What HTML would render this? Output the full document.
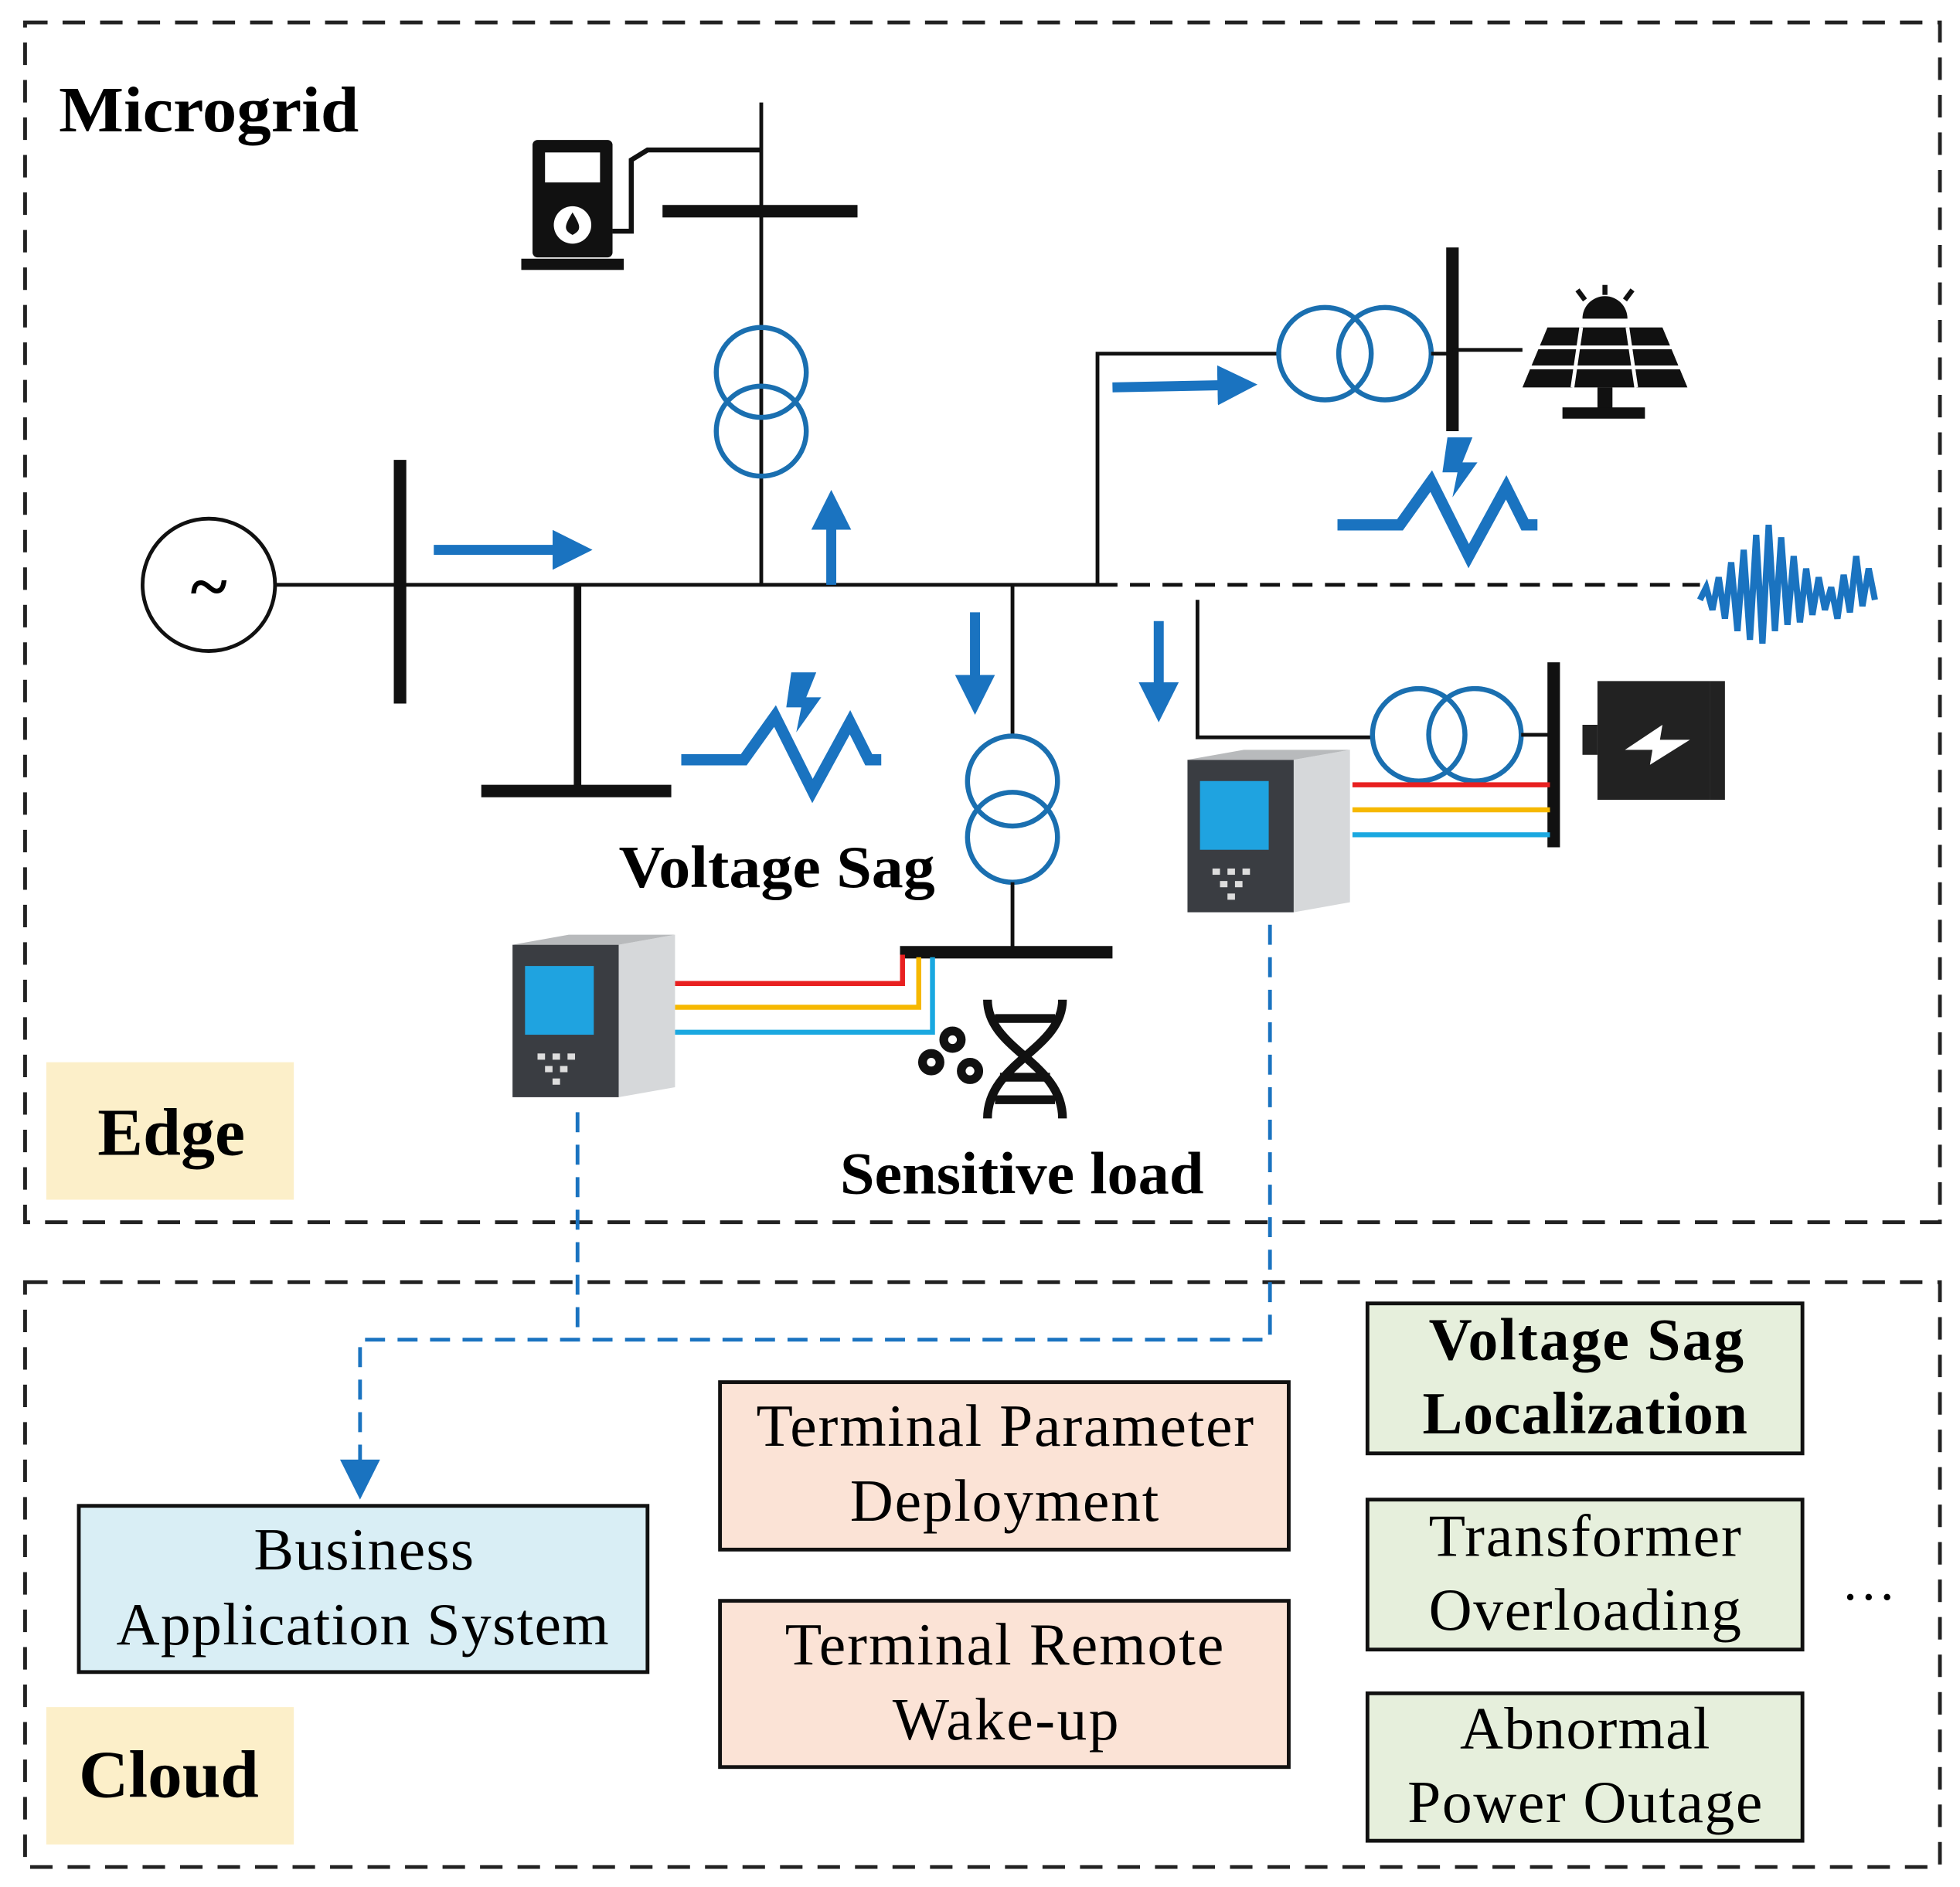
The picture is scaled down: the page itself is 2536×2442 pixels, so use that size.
<!DOCTYPE html>
<html><head><meta charset="utf-8">
<style>html,body{margin:0;padding:0;background:#fff}svg{display:block}</style>
</head><body>
<svg width="2536" height="2442" viewBox="0 0 1568 1510" xmlns="http://www.w3.org/2000/svg" font-family="'Liberation Serif',serif">
<defs>
<marker id="ah" markerWidth="4" markerHeight="4" refX="2" refY="2" orient="auto" markerUnits="strokeWidth"><path d="M0,0 L4,2 L0,4 z" fill="#1a73c0"/></marker>
<g id="sag"><path d="M0,70 L50,70 L75,35 L105,95 L135,40 L150,70 L160,70" fill="none" stroke="#1a73c0" stroke-width="9" stroke-linejoin="miter"/><path d="M88,0 L108,0 L100,20 L112,20 L92,48 L96,28 L84,28 z" fill="#1a73c0"/></g>
<g id="dev">
<rect x="0" y="8" width="85" height="122" fill="#3a3d42"/>
<path d="M85,8 L130,0 L130,122 L85,130 z" fill="#d6d8da"/>
<path d="M0,8 L45,0 L130,0 L85,8 z" fill="#b8babc"/>
<rect x="10" y="25" width="55" height="55" fill="#1fa3e0"/>
<g fill="#ddd"><rect x="20" y="95" width="6" height="5"/><rect x="32" y="95" width="6" height="5"/><rect x="44" y="95" width="6" height="5"/><rect x="26" y="105" width="6" height="5"/><rect x="38" y="105" width="6" height="5"/><rect x="32" y="115" width="6" height="5"/></g>
</g>
</defs>
<rect width="1568" height="1510" fill="#fff"/>
<rect x="20" y="18" width="1532" height="960" fill="none" stroke="#222" stroke-width="3" stroke-dasharray="18,12"/>
<rect x="20" y="1026" width="1532" height="468" fill="none" stroke="#222" stroke-width="3" stroke-dasharray="18,12"/>
<text x="47" y="105" font-size="52" font-weight="bold" textLength="240" lengthAdjust="spacingAndGlyphs">Microgrid</text>
<circle cx="167" cy="468" r="53" fill="none" stroke="#111" stroke-width="3"/>
<text x="167" y="488" font-size="56" font-weight="bold" text-anchor="middle">~</text>
<line x1="220" y1="468" x2="878" y2="468" stroke="#111" stroke-width="3"/>
<line x1="878" y1="468" x2="1360" y2="468" stroke="#111" stroke-width="3" stroke-dasharray="16,10"/>
<line x1="320" y1="368" x2="320" y2="563" stroke="#111" stroke-width="10"/>
<line x1="347" y1="440" x2="458" y2="440" stroke="#1a73c0" stroke-width="8" marker-end="url(#ah)"/>
<line x1="462" y1="468" x2="462" y2="633" stroke="#111" stroke-width="6"/>
<line x1="385" y1="633" x2="537" y2="633" stroke="#111" stroke-width="10"/>
<line x1="609" y1="82" x2="609" y2="468" stroke="#111" stroke-width="3"/>
<line x1="530" y1="169" x2="686" y2="169" stroke="#111" stroke-width="10"/>
<circle cx="609" cy="298" r="36" fill="none" stroke="#1a6fb0" stroke-width="4"/>
<circle cx="609" cy="345" r="36" fill="none" stroke="#1a6fb0" stroke-width="4"/>
<line x1="665" y1="468" x2="665" y2="408" stroke="#1a73c0" stroke-width="8" marker-end="url(#ah)"/>
<rect x="426" y="112" width="64" height="94" rx="4" fill="#111"/>
<rect x="436" y="122" width="44" height="24" fill="#fff"/>
<circle cx="458" cy="180" r="15" fill="#fff"/><path d="M458,170 C452,180 450,184 458,188 C466,184 464,180 458,170 z" fill="#111"/>
<rect x="417" y="207" width="82" height="9" fill="#111"/>
<path d="M490,185 L505,185 L505,128 L518,120 L609,120" fill="none" stroke="#111" stroke-width="4"/>
<line x1="810" y1="468" x2="810" y2="590" stroke="#111" stroke-width="3"/>
<circle cx="810" cy="625" r="36" fill="none" stroke="#1a6fb0" stroke-width="4"/>
<circle cx="810" cy="670" r="36" fill="none" stroke="#1a6fb0" stroke-width="4"/>
<line x1="810" y1="706" x2="810" y2="762" stroke="#111" stroke-width="3"/>
<line x1="720" y1="762" x2="890" y2="762" stroke="#111" stroke-width="10"/>
<line x1="780" y1="490" x2="780" y2="556" stroke="#1a73c0" stroke-width="8" marker-end="url(#ah)"/>
<line x1="927" y1="497" x2="927" y2="562" stroke="#1a73c0" stroke-width="8" marker-end="url(#ah)"/>
<path d="M878,468 L878,283 L1023,283" fill="none" stroke="#111" stroke-width="3"/>
<circle cx="1060" cy="283" r="37" fill="none" stroke="#1a6fb0" stroke-width="4"/>
<circle cx="1108" cy="283" r="37" fill="none" stroke="#1a6fb0" stroke-width="4"/>
<line x1="1145" y1="283" x2="1162" y2="283" stroke="#111" stroke-width="3"/>
<line x1="1162" y1="198" x2="1162" y2="345" stroke="#111" stroke-width="10"/>
<line x1="1162" y1="280" x2="1218" y2="280" stroke="#111" stroke-width="3"/>
<line x1="890" y1="310" x2="990" y2="308" stroke="#1a73c0" stroke-width="8" marker-end="url(#ah)"/>
<g fill="#111">
<path d="M1266,255 a18,18 0 0 1 36,0 z"/>
<line x1="1284" y1="228" x2="1284" y2="236" stroke="#111" stroke-width="4"/>
<line x1="1262" y1="232" x2="1268" y2="240" stroke="#111" stroke-width="4"/>
<line x1="1306" y1="232" x2="1300" y2="240" stroke="#111" stroke-width="4"/>
<path d="M1238,262 L1330,262 L1350,310 L1218,310 z"/>
<rect x="1278" y="310" width="12" height="18"/>
<rect x="1250" y="326" width="66" height="9"/>
</g>
<g stroke="#fff" stroke-width="3"><line x1="1228" y1="278" x2="1340" y2="278"/><line x1="1224" y1="294" x2="1344" y2="294"/><line x1="1265" y1="262" x2="1258" y2="310"/><line x1="1302" y1="262" x2="1309" y2="310"/></g>
<use href="#sag" x="1070" y="350"/>
<use href="#sag" x="545" y="538"/>
<path d="M1360,480 L1365,470 L1370,488 L1375,462 L1380,495 L1385,450 L1390,505 L1395,440 L1400,512 L1405,428 L1410,515 L1415,420 L1420,505 L1425,430 L1430,500 L1435,445 L1440,498 L1445,455 L1450,492 L1455,462 L1460,488 L1465,470 L1470,495 L1475,460 L1480,490 L1485,445 L1490,485 L1495,455 L1500,480" fill="none" stroke="#1a73c0" stroke-width="5"/>
<path d="M958,480 L958,590 L1098,590" fill="none" stroke="#111" stroke-width="3"/>
<circle cx="1135" cy="588" r="37" fill="none" stroke="#1a6fb0" stroke-width="4"/>
<circle cx="1180" cy="588" r="37" fill="none" stroke="#1a6fb0" stroke-width="4"/>
<line x1="1217" y1="588" x2="1243" y2="588" stroke="#111" stroke-width="3"/>
<line x1="1243" y1="530" x2="1243" y2="678" stroke="#111" stroke-width="10"/>
<rect x="1278" y="545" width="90" height="95" fill="#222"/>
<rect x="1266" y="580" width="12" height="24" fill="#222"/>
<rect x="1368" y="545" width="12" height="95" fill="#222"/>
<path d="M1300,600 L1330,580 L1328,592 L1352,592 L1320,612 L1322,600 z" fill="#fff"/>
<line x1="1082" y1="628" x2="1240" y2="628" stroke="#e82020" stroke-width="4"/>
<line x1="1082" y1="648" x2="1240" y2="648" stroke="#f6b800" stroke-width="4"/>
<line x1="1082" y1="668" x2="1240" y2="668" stroke="#1aa8e0" stroke-width="4"/>
<use href="#dev" x="950" y="600"/>
<path d="M540,787 L722,787 L722,764" fill="none" stroke="#e82020" stroke-width="4"/>
<path d="M540,806 L735,806 L735,766" fill="none" stroke="#f6b800" stroke-width="4"/>
<path d="M540,826 L746,826 L746,766" fill="none" stroke="#1aa8e0" stroke-width="4"/>
<use href="#dev" x="410" y="748"/>
<g fill="none" stroke="#111" stroke-width="7">
<path d="M790,800 C790,840 850,850 850,895"/><path d="M850,800 C850,840 790,850 790,895"/>
<line x1="796" y1="815" x2="844" y2="815"/><line x1="796" y1="880" x2="844" y2="880"/><line x1="800" y1="862" x2="840" y2="862"/>
<circle cx="745" cy="850" r="7"/><circle cx="762" cy="832" r="7"/><circle cx="776" cy="857" r="7"/>
</g>
<text x="495" y="710" font-size="48" font-weight="bold" textLength="253" lengthAdjust="spacingAndGlyphs">Voltage Sag</text>
<text x="672" y="955" font-size="48" font-weight="bold" textLength="291" lengthAdjust="spacingAndGlyphs">Sensitive load</text>
<rect x="37" y="850" width="198" height="110" fill="#fcefc9"/>
<text x="78" y="924" font-size="54" font-weight="bold" textLength="118" lengthAdjust="spacingAndGlyphs">Edge</text>
<path d="M462,890 L462,1072 M1016,740 L1016,1072 L288,1072 L288,1175" fill="none" stroke="#1a73c0" stroke-width="3" stroke-dasharray="16,10"/>
<path d="M272,1168 L304,1168 L288,1200 z" fill="#1a73c0"/>
<g font-size="48" lengthAdjust="spacingAndGlyphs">
<rect x="63" y="1205" width="455" height="133" fill="#d9eef5" stroke="#111" stroke-width="3"/>
<text x="203" y="1256" textLength="176">Business</text>
<text x="93" y="1316" textLength="394">Application System</text>
<rect x="576" y="1106" width="455" height="134" fill="#fbe3d6" stroke="#111" stroke-width="3"/>
<text x="605" y="1157" textLength="398">Terminal Parameter</text>
<text x="680" y="1217" textLength="247">Deployment</text>
<rect x="576" y="1281" width="455" height="133" fill="#fbe3d6" stroke="#111" stroke-width="3"/>
<text x="628" y="1332" textLength="351">Terminal Remote</text>
<text x="714" y="1392" textLength="181">Wake-up</text>
<rect x="1094" y="1043" width="348" height="120" fill="#e6efdc" stroke="#111" stroke-width="3"/>
<text x="1143" y="1088" font-weight="bold" textLength="252">Voltage Sag</text>
<text x="1138" y="1147" font-weight="bold" textLength="260">Localization</text>
<rect x="1094" y="1200" width="348" height="120" fill="#e6efdc" stroke="#111" stroke-width="3"/>
<text x="1143" y="1245" textLength="250">Transformer</text>
<text x="1143" y="1304" textLength="250">Overloading</text>
<rect x="1094" y="1355" width="348" height="118" fill="#e6efdc" stroke="#111" stroke-width="3"/>
<text x="1168" y="1399" textLength="200">Abnormal</text>
<text x="1126" y="1458" textLength="284">Power Outage</text>
</g>
<text x="1495" y="1280" font-size="44" text-anchor="middle">…</text>
<rect x="37" y="1366" width="198" height="110" fill="#fcefc9"/>
<text x="63" y="1438" font-size="54" font-weight="bold" textLength="144" lengthAdjust="spacingAndGlyphs">Cloud</text>
</svg>
</body></html>
